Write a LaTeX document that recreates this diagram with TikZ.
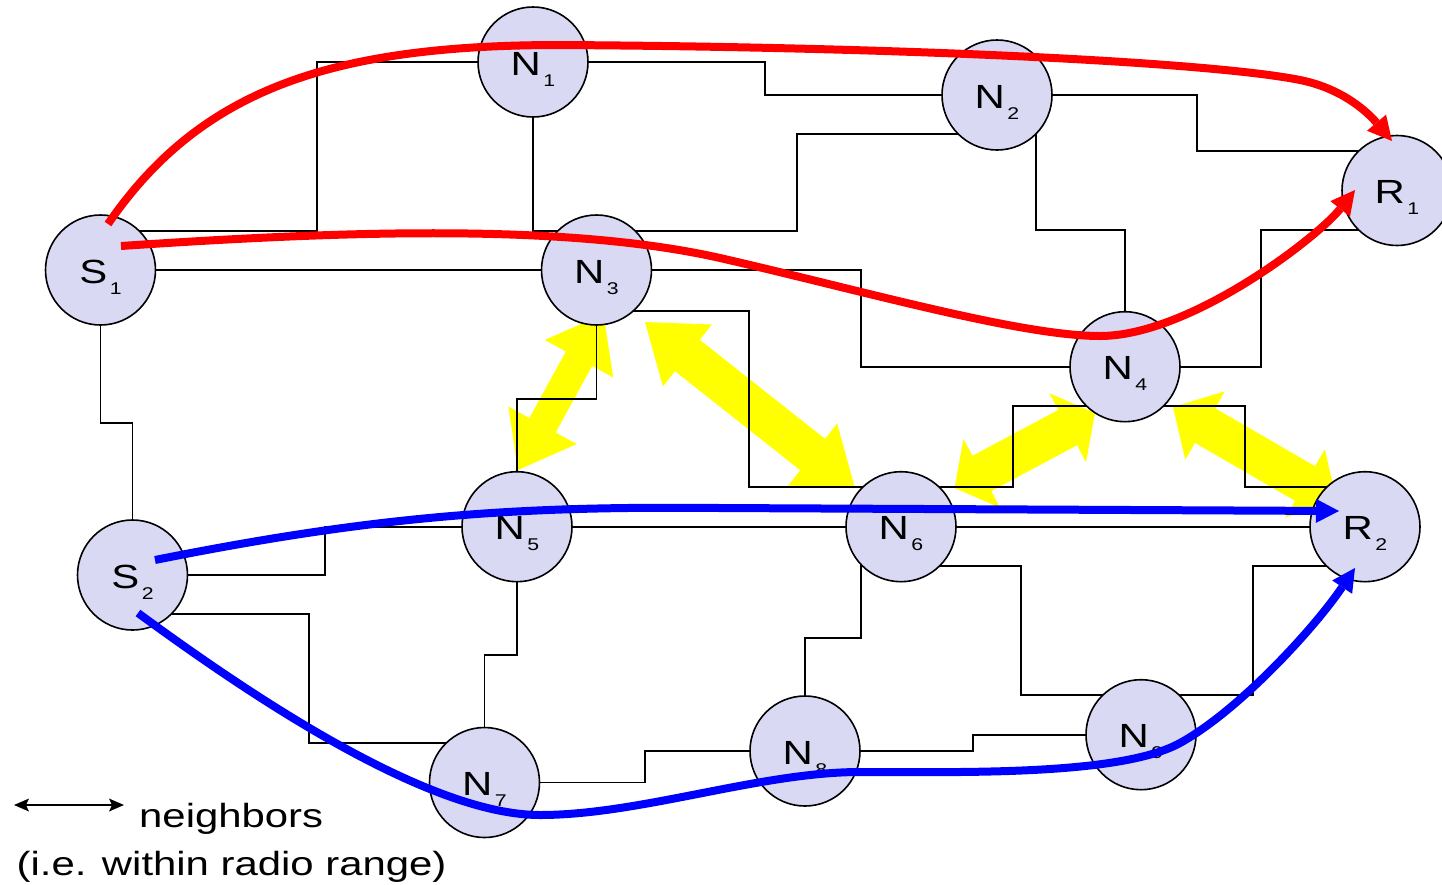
\documentclass[tikz,border=0pt]{standalone}
\usepackage{fontspec}
\setmainfont{Liberation Sans}
\usetikzlibrary{calc,arrows.meta}
\pgfdeclarelayer{ylayer}
\pgfdeclarelayer{llayer}
\pgfdeclarelayer{tlayer}
\pgfsetlayers{ylayer,llayer,main,tlayer}
\definecolor{nodefill}{RGB}{217,217,243}
\definecolor{ylw}{RGB}{255,255,0}
\definecolor{pathred}{RGB}{255,0,0}
\definecolor{pathblue}{RGB}{0,0,255}
\newcommand\wide[1]{\scalebox{1.25}[1]{#1}}
\newcommand\nlab[2]{\wide{#1\kern2pt\raisebox{-11pt}{\fontsize{17}{17}\selectfont #2}}}
% #1 start, #2 end, #3 head length, #4 half head width, #5 half shaft width
\newcommand\yarrow[5]{%
  \coordinate (ya1) at ($(#1)!#3!(#2)$);
  \coordinate (ya2) at ($(#2)!#3!(#1)$);
  \fill[ylw] (#1) -- ($(ya1)!#4!90:(#2)$) -- ($(ya1)!#5!90:(#2)$)
    -- ($(ya2)!#5!-90:(#1)$) -- ($(ya2)!#4!-90:(#1)$) -- (#2)
    -- ($(ya2)!#4!90:(#1)$) -- ($(ya2)!#5!90:(#1)$)
    -- ($(ya1)!#5!-90:(#2)$) -- ($(ya1)!#4!-90:(#2)$) -- cycle;
}
\begin{document}
\begin{tikzpicture}[x=1pt,y=-1pt,
  nd/.style={circle, draw=black, line width=1.6pt, fill=nodefill,
    minimum size=110pt, inner sep=0pt, text height=26pt, text depth=0pt,
    font=\fontsize{33.5}{40}\selectfont},
  link/.style={draw=black, line width=1.8pt},
  redpath/.style={draw=pathred, line width=8pt,
    -{Triangle[length=24pt,width=25pt,line width=0pt]}},
  bluepath/.style={draw=pathblue, line width=8pt,
    -{Triangle[length=23pt,width=24pt,line width=0pt]}},
  legtext/.style={anchor=base west, inner sep=0pt, font=\fontsize{33.5}{40}\selectfont}]
\clip (0,0) rectangle (1442,884);

% nodes
\node[nd] (N1) at (533,62) {\nlab{N}{1}};
\node[nd] (N2) at (997,95) {\nlab{N}{2}};
\node[nd] (R1) at (1397,190.5) {\nlab{R}{1}};
\node[nd] (S1) at (100.5,270) {\nlab{S}{1}};
\node[nd] (N3) at (596.5,270) {\nlab{N}{3}};
\node[nd] (N4) at (1125,366.7) {\nlab{N}{4}};
\node[nd] (N5) at (517,526.7) {\nlab{N}{5}};
\node[nd] (N6) at (901,526.7) {\nlab{N}{6}};
\node[nd] (R2) at (1365,526.7) {\nlab{R}{2}};
\node[nd] (S2) at (132.5,575) {\nlab{S}{2}};
\node[nd] (N7) at (484.5,782.5) {\nlab{N}{7}};
\node[nd] (N8) at (805,751) {\nlab{N}{8}};
\node[nd] (N9) at (1141,734.7) {\nlab{N}{9}};

% yellow neighbour arrows
\begin{pgfonlayer}{ylayer}
\coordinate (y1a) at (603.5,314);
\coordinate (y1b) at (518,470);
\coordinate (y2a) at (645,322);
\coordinate (y2b) at (855,488);
\coordinate (y3a) at (954.5,488);
\coordinate (y3b) at (1095,413);
\coordinate (y4a) at (1173,407);
\coordinate (y4b) at (1337,502);
\yarrow{y1a}{y1b}{51pt}{39pt}{15pt}
\yarrow{y2a}{y2b}{54pt}{39.5pt}{20pt}
\yarrow{y3a}{y3b}{31pt}{39pt}{20pt}
\yarrow{y4a}{y4b}{37pt}{39.5pt}{20pt}
\end{pgfonlayer}

% links
\begin{pgfonlayer}{llayer}
\draw[link] (S1.center |- 0,231) -| (317,62) -- (N1.center);
\draw[link] (N1.center) |- (596.5,231);
\draw[link] (S1.center) -- (N3.center);
\draw[link] (S1.center) |- (132.5,423) -- (S2.center);
\draw[link] (N1.center) -| (765,95) -- (N2.center);
\draw[link] (N3.center |- 0,231) -| (797,134) -- (N2.center |- 0,134);
\draw[link] (N2.center) -| (1197,151) -- (R1.center |- 0,151);
\draw[link] (N2.center -| 1036,0) |- (1125,230) -- (N4.center);
\draw[link] (N4.center) -| (1261,230) -- (R1.center |- 0,230);
\draw[link] (N3.center) -| (861,366.7) -- (N4.center);
\draw[link] (N3.center |- 0,311) -| (749,487) -- (N6.center |- 0,487);
\draw[link] (N3.center) |- (517,399) -- (N5.center);
\draw[link] (N4.center |- 0,406) -| (1013,487) -- (N6.center |- 0,487);
\draw[link] (N4.center |- 0,406) -| (1245,487) -- (R2.center |- 0,487);
\draw[link] (N5.center) -- (N6.center);
\draw[link] (N6.center) -- (R2.center);
\draw[link] (S2.center) -| (325,526.7) -- (N5.center);
\draw[link] (S2.center |- 0,614) -| (309,743) -- (N7.center |- 0,743);
\draw[link] (N5.center) |- (484.5,655) -- (N7.center);
\draw[link] (N7.center) -| (645,751) -- (N8.center);
\draw[link] (N6.center -| 861,0) |- (805,638) -- (N8.center);
\draw[link] (N6.center |- 0,566) -| (1021,695) -- (N9.center |- 0,695);
\draw[link] (N8.center) -| (973,734.7) -- (N9.center);
\draw[link] (N9.center |- 0,695) -| (1253,566) -- (R2.center |- 0,566);
\end{pgfonlayer}

% routes
\begin{pgfonlayer}{tlayer}
\coordinate (ra0) at (108,224);
\coordinate (ra1) at (1392,141);
\coordinate (rb0) at (121,246);
\coordinate (rb1) at (1355,190);
\coordinate (ba0) at (155,560);
\coordinate (ba1) at (1339,511);
\coordinate (bb0) at (138,613);
\coordinate (bb1) at (1355,568);
\draw[redpath] (ra0) .. controls (200,90) and (330,45) .. (560,45)
  .. controls (900,47) and (1210,62) .. (1300,80)
  .. controls (1345,89) and (1370,115) .. (ra1);
\draw[redpath] (rb0) .. controls (330,232) and (560,222) .. (720,258)
  .. controls (860,290) and (1020,336) .. (1100,336)
  .. controls (1190,336) and (1318,237) .. (rb1);
\draw[bluepath] (ba0) .. controls (380,515) and (520,506) .. (720,508) -- (ba1);
\draw[bluepath] (bb0) .. controls (258,701) and (430,815) .. (540,815)
  .. controls (640,815) and (760,772) .. (860,772)
  .. controls (960,772) and (1120,776) .. (1180,743)
  .. controls (1240,710) and (1316,626) .. (bb1);
\end{pgfonlayer}

% legend
\coordinate (lga) at (14,805);
\coordinate (lgb) at (124,805);
\draw[line width=2pt, {Stealth[length=15pt,width=13pt,inset=3pt,line width=0pt]}-{Stealth[length=15pt,width=13pt,inset=3pt,line width=0pt]}] (lga) -- (lgb);
\node[legtext] (lgt1) at (139,827) {\wide{neighbors}};
\node[legtext] (lgt2) at (16.5,875) {\wide{(i.e. within radio range)}};
\end{tikzpicture}
\end{document}
